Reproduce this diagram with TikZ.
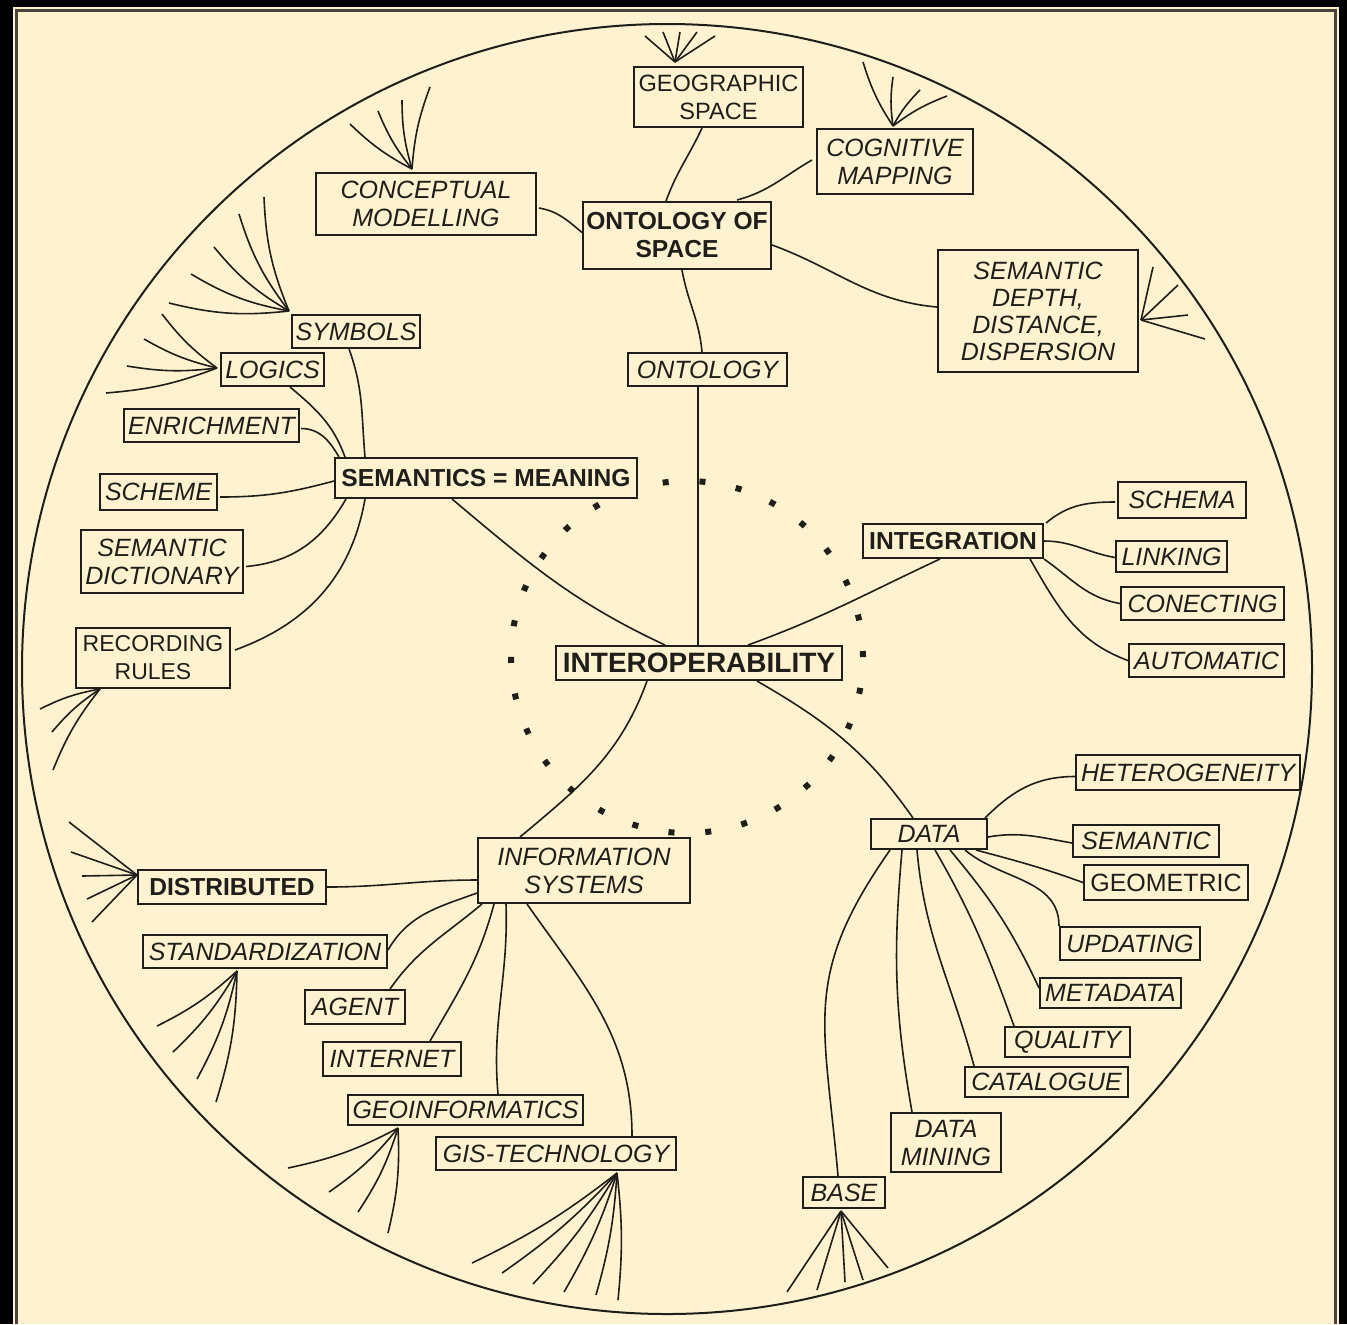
\documentclass[tikz,border=0pt]{standalone}
\usepackage{fontspec}
\setmainfont{Liberation Sans}
\usetikzlibrary{calc}
\definecolor{cream}{RGB}{255,242,208}
\definecolor{ink}{RGB}{32,30,26}
\definecolor{framec}{RGB}{72,68,56}
\begin{document}
\begin{tikzpicture}[x=0.5pt,y=0.5pt,
  box/.style={draw=ink, line width=1pt, fill=cream, inner sep=0pt, align=center, text=ink},
  itl/.style={box, font=\fontsize{12.5}{14}\selectfont\itshape},
  bld/.style={box, font=\fontsize{12.3}{14}\selectfont\bfseries},
  reg/.style={box, font=\fontsize{12.5}{14}\selectfont},
  sz/.style 2 args={minimum width=#1pt, minimum height=#2pt},
  ln/.style={draw=ink, line width=0.8pt},
  ring/.style={draw=ink, line width=3pt, dash pattern=on 3pt off 15.43pt}]
\fill[black] (0,0) rectangle (1347,-1324);
\useasboundingbox (0,0) rectangle (1347,-1324);
\fill[cream] (13,-7) rectangle (1339,-1324);
\draw[framec, line width=1.5pt] (16.5,-1324) -- (16.5,-10.5) -- (1335,-10.5) -- (1335,-1324);
% outer circle
\draw[ink, line width=1pt] (667,-669) circle[radius=645];
% dotted ring
\draw[ring] (687,-657) circle[radius=176];

% nodes
\node[reg, font=\fontsize{11.8}{14}\selectfont, sz={84.5}{30}] (geo) at (718.5,-97) {GEOGRAPHIC\\SPACE};
\node[itl, sz={78}{32.5}] (cog) at (895,-161.5) {COGNITIVE\\MAPPING};
\node[itl, sz={110}{31}] (con) at (426,-204) {CONCEPTUAL\\MODELLING};
\node[bld, sz={94}{33.5}] (oos) at (677,-235.5) {ONTOLOGY OF\\SPACE};
\node[itl, sz={100}{61}, font=\fontsize{12.5}{13.5}\selectfont\itshape] (sdd) at (1038,-311) {SEMANTIC\\DEPTH,\\DISTANCE,\\DISPERSION};
\node[itl, sz={64}{16.5}] (sym) at (356,-331.5) {SYMBOLS};
\node[itl, sz={51.5}{16.5}] (log) at (272.5,-369.5) {LOGICS};
\node[itl, sz={79.5}{16.5}] (ont) at (707.5,-369.5) {ONTOLOGY};
\node[itl, sz={87.5}{16.5}] (enr) at (211.5,-425.5) {ENRICHMENT};
\node[bld, sz={151}{20}] (sem) at (486,-478) {SEMANTICS = MEANING};
\node[itl, sz={58.5}{18}] (sch) at (158.5,-492) {SCHEME};
\node[itl, sz={81}{31.5}] (sdi) at (162,-561.5) {SEMANTIC\\DICTIONARY};
\node[reg, font=\fontsize{11.5}{14}\selectfont, sz={77}{30}] (rec) at (153,-658) {RECORDING\\RULES};
\node[bld, font=\fontsize{14}{16}\selectfont\bfseries, sz={143}{17}] (int) at (699,-663) {INTEROPERABILITY};
\node[bld, sz={90}{17}] (itg) at (953,-541) {INTEGRATION};
\node[itl, sz={64}{18}] (schema) at (1182,-500) {SCHEMA};
\node[itl, sz={55.5}{15.5}] (lnk) at (1171.5,-556.5) {LINKING};
\node[itl, sz={81.5}{16.5}] (cnc) at (1202.5,-603.5) {CONECTING};
\node[itl, sz={77.5}{16.5}] (aut) at (1206.5,-660.5) {AUTOMATIC};
\node[itl, sz={112}{17.5}] (het) at (1188,-772.5) {HETEROGENEITY};
\node[itl, sz={58}{15}] (dat) at (929,-834) {DATA};
\node[itl, sz={73}{16}] (smt) at (1146,-841) {SEMANTIC};
\node[reg, sz={82}{17.5}] (geo2) at (1166,-882.5) {GEOMETRIC};
\node[itl, sz={70}{16.5}] (upd) at (1130,-943.5) {UPDATING};
\node[itl, sz={70.5}{15}] (met) at (1110.5,-993) {METADATA};
\node[itl, sz={62.5}{15}] (qua) at (1067.5,-1042) {QUALITY};
\node[itl, sz={81.5}{15}] (cat) at (1046.5,-1082) {CATALOGUE};
\node[itl, sz={55}{29.5}] (dm) at (946,-1142.5) {DATA\\MINING};
\node[itl, sz={41}{15.5}] (bas) at (844,-1192.5) {BASE};
\node[itl, sz={106}{32.5}] (ifs) at (584,-870.5) {INFORMATION\\SYSTEMS};
\node[bld, sz={94}{17}] (dis) at (232,-887) {DISTRIBUTED};
\node[itl, sz={122}{16.5}] (std) at (265,-951.5) {STANDARDIZATION};
\node[itl, sz={50}{17}] (agt) at (355,-1007) {AGENT};
\node[itl, sz={69}{17}] (inn) at (392,-1059) {INTERNET};
\node[itl, sz={117.5}{15}] (gin) at (465.5,-1110) {GEOINFORMATICS};
\node[itl, sz={120}{16.5}] (gis) at (556,-1153.5) {GIS-TECHNOLOGY};

% connectors: ontology of space
\draw[ln] ($(oos.north)+(-11,0)$) to[out=70,in=-115] ($(geo.south)+(-16.5,0)$);
\draw[ln] ($(oos.north)+(60,1)$) to[out=15,in=210] ($(cog.west)+(-4,1.5)$);
\draw[ln] ($(oos.west)+(0,3)$) to[out=140,in=-10] ($(con.east)+(2,-4)$);
\draw[ln] ($(oos.east)+(0,-9.5)$) to[out=-20,in=175] ($(sdd.west)+(0,4)$);
\draw[ln] ($(oos.south)+(5,0)$) to[out=-80,in=95] ($(ont.north)+(-5.5,0)$);
\draw[ln] ($(ont.south)+(-9.5,0)$) -- ($(int.north)+(-1,0)$);
% main spokes
\draw[ln] ($(sem.south)+(-34,0)$) to[out=-40,in=155] ($(int.north)+(-34,0)$);
\draw[ln] ($(itg.south)+(-13,0)$) to[out=-155,in=20] ($(int.north)+(49,0)$);
\draw[ln] ($(ifs.north)+(-64,0)$) to[out=40,in=-110] ($(int.south)+(-52,0)$);
\draw[ln] ($(dat.north)+(-16,0)$) to[out=125,in=-30] ($(int.south)+(58,0)$);
% semantics children
\draw[ln] ($(sem.north)+(-121,0)$) to[out=95,in=-70] ($(sym.south)+(-7,0)$);
\draw[ln] ($(sem.north)+(-141,0)$) to[out=110,in=-40] ($(log.south)+(17.5,0)$);
\draw[ln] ($(enr.east)+(1,-3)$) to[out=0,in=120] ($(sem.north west)+(5,0)$);
\draw[ln] ($(sch.east)+(2,-5)$) to[out=0,in=195] ($(sem.west)+(0,-3)$);
\draw[ln] ($(sdi.east)+(2,-5)$) to[out=5,in=-120] ($(sem.south)+(-140,0)$);
\draw[ln] ($(rec.east)+(4,8)$) to[out=20,in=-100] ($(sem.south)+(-121,0)$);
% integration children
\draw[ln] ($(itg.north east)+(2,0)$) to[out=40,in=180] ($(schema.west)+(-2,-2)$);
\draw[ln] (itg.east) to[out=0,in=170] ($(lnk.west)+(0,-1)$);
\draw[ln] (itg.south east) to[out=-35,in=170] (cnc.west);
\draw[ln] ($(itg.south)+(77,0)$) to[out=-60,in=160] (aut.west);
% data children
\draw[ln] ($(dat.north east)+(-3,0)$) to[out=45,in=180] ($(het.west)+(0,-4)$);
\draw[ln] ($(dat.east)+(0,-3)$) to[out=10,in=170] ($(smt.west)+(0,-2)$);
\draw[ln] ($(dat.south east)+(-12,0)$) to[out=-15,in=160] (geo2.west);
\draw[ln] ($(dat.south)+(36,0)$) to[out=-40,in=90] (upd.north west);
\draw[ln] ($(dat.south)+(21,0)$) to[out=-50,in=115] ($(met.west)+(0,5)$);
\draw[ln] ($(dat.south)+(6,0)$) to[out=-60,in=110] ($(qua.north west)+(10,0)$);
\draw[ln] ($(dat.south)+(-12,0)$) to[out=-85,in=105] ($(cat.north west)+(10,0)$);
\draw[ln] ($(dat.south)+(-27,0)$) to[out=-95,in=100] ($(dm.north)+(-34,0)$);
\draw[ln] ($(dat.south)+(-39,0)$) to[out=-125,in=95,looseness=1.2] ($(bas.north)+(-6,0)$);
% information systems children
\draw[ln] ($(ifs.west)+(0,-9.5)$) to[out=180,in=0] (dis.east);
\draw[ln] ($(ifs.west)+(0,-22.5)$) to[out=-160,in=60] ($(std.east)+(0,1.5)$);
\draw[ln] ($(ifs.south west)+(5,0)$) to[out=-140,in=55] ($(agt.north)+(35,0)$);
\draw[ln] ($(ifs.south west)+(17,0)$) to[out=-105,in=60] ($(inn.north)+(38,0)$);
\draw[ln] ($(ifs.south west)+(29,0)$) to[out=-88,in=95] ($(gin.north)+(32.5,0)$);
\draw[ln] ($(ifs.south west)+(50,0)$) to[out=-55,in=90] ($(gis.north)+(76,0)$);

% fans (further branches)
\foreach \a/\b in {-30/26,-12/30,5/30,22/30,40/26}
  \draw[ln] ($(geo.north)+(-43.5,4)$) -- ++(\a,\b);
\foreach \a/\b in {-30/64,0/49,27/36,54/30}
  \draw[ln] ($(cog.north)+(-2,2)$) to[bend left=8] ++(\a,\b);
\foreach \a/\b in {-62/45,-34/58,-10/69,18/82}
  \draw[ln] ($(con.north)+(-14,3)$) to[bend left=8] ++(\a,\b);
\foreach \a/\b in {-25/114,-50/97,-75/64,-98/37,-120/8}
  \draw[ln] ($(sym.north west)+(-2,3)$) to[bend left=10] ++(\a,\b);
\foreach \a/\b in {-55/54,-73/29,-90/2,-111/-25}
  \draw[ln] ($(log.west)+(-3,1.5)$) to[bend left=8] ++(\a,\b);
\foreach \a/\b in {12/53,37/35,47/5,64/-19}
  \draw[ln] ($(sdd.east)+(2,-9)$) -- ++(\a,\b);
\foreach \a/\b in {-60/-20,-48/-43,-47/-81}
  \draw[ln] ($(rec.south)+(-53,0)$) to[bend right=8] ++(\a,\b);
\foreach \a/\b in {-68/53,-66/23,-55/-1,-50/-24,-45/-47}
  \draw[ln] ($(dis.west)+(0,12)$) -- ++(\a,\b);
\foreach \a/\b in {-80/-55,-64/-81,-40/-108,-21/-131}
  \draw[ln] ($(std.south)+(-28,-2)$) to[bend left=8] ++(\a,\b);
\foreach \a/\b in {-110/-40,-69/-64,-40/-84,-10/-105}
  \draw[ln] ($(gin.south)+(-67.5,-2)$) to[bend left=8] ++(\a,\b);
\foreach \a/\b in {-145/-90,-115/-100,-84/-111,-53/-119,-21/-122,1/-127}
  \draw[ln] ($(gis.south)+(61,-2)$) to[bend left=6] ++(\a,\b);
\foreach \a/\b in {-54/-81,-24/-79,4/-71,22/-69,47/-57}
  \draw[ln] ($(bas.south)+(-3,-2)$) -- ++(\a,\b);
\end{tikzpicture}
\end{document}
